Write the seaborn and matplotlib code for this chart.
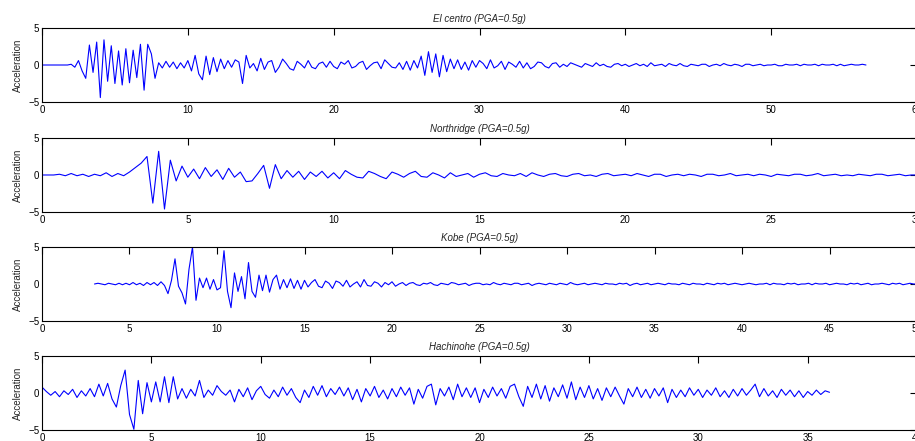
import matplotlib

matplotlib.use("Agg")

import matplotlib.pyplot as plt
import numpy as np
import pandas as pd
import seaborn as sns

# accelerogramas (unidade do eixo: -5..5)
elcentro_dt = 0.25
elcentro_acc = [
    0, 0, 0, 0, 0, 0, 0, 0, 0.1, -0.3, 0.6, -0.8, -1.8, 2.7, -1.0, 3.1, -4.4, 3.4, -2.2, 2.6,
    -2.5, 1.9, -2.7, 2.2, -2.4, 2.0, -1.7, 2.8, -3.4, 2.8, 1.5, -1.8, 0.3, -0.4, 0.5, -0.3, 0.4, -0.5, 0.3, -0.4,
    0.6, -0.8, 1.3, -1.2, -2.0, 1.2, -1.3, 1.0, -0.9, 0.8, -0.5, 0.6, -0.3, 0.7, 0.4, -2.5, 1.3, -0.4, 0.2, -0.8,
    0.9, -0.6, 0.4, 0.6, -1.0, -0.3, 0.8, 0.2, -0.5, -0.7, 0.5, 0.1, -0.4, 0.6, -0.3, -0.5, 0.2, 0.4, -0.3, 0.5,
    -0.2, -0.5, 0.4, 0.1, 0.6, -0.4, -0.2, 0.3, 0.5, -0.6, -0.1, 0.3, 0.4, -0.5, 0.7, 0.2, -0.3, -0.4, 0.3, -0.6,
    0.5, -0.7, 0.6, -0.4, 1.2, -1.4, 1.8, -1.0, 1.5, -1.6, 1.3, -0.9, 0.8, -0.5, 0.7, -0.6, 0.4, -0.7, 0.6, -0.3,
    0.6, 0.2, -0.5, 0.7, -0.4, -0.1, 0.5, -0.6, 0.4, 0.1, -0.3, 0.5, -0.4, 0.3, -0.5, -0.2, 0.4, 0.3, -0.2, -0.4,
    0.2, 0.3, -0.3, 0.1, -0.2, 0.3, 0.1, -0.1, -0.3, 0.2, 0.0, -0.2, 0.3, -0.1, 0.1, -0.2, -0.3, 0.1, 0.2, -0.1,
    0.1, -0.2, 0.0, 0.2, -0.1, 0.1, -0.2, 0.3, -0.1, 0.0, 0.1, -0.2, 0.2, 0.0, -0.1, 0.2, -0.1, -0.2, 0.1, 0.0,
    -0.1, 0.1, 0.1, -0.2, 0.0, 0.1, -0.1, 0.2, 0.0, -0.1, 0.1, 0.0, -0.2, 0.1, 0.1, -0.1, 0.0, 0.1, -0.1, 0.0,
    0.0, 0.1, -0.1, -0.1, 0.1, 0.0, 0.0, 0.1, -0.1, 0.1, 0.0, 0.0, 0.1, -0.1, 0.1, 0.0, 0.0, 0.1, -0.1, 0.1,
    -0.1, 0.0, 0.1, 0.0, 0.0, 0.1, 0.0,
]

northridge_dt = 0.2
northridge_acc = [
    0, 0, 0, 0.1, -0.1, 0.2, -0.1, 0.1, -0.2, 0.1,
    -0.1, 0.3, -0.2, 0.2, -0.1, 0.4, 1.0, 1.6, 2.5, -3.8,
    3.2, -4.6, 2.0, -0.8, 1.2, -0.3, 0.8, -0.5, 1.0, -0.2,
    0.7, -0.6, 0.9, -0.3, 0.4, -0.9, -0.8, 0.2, 1.3, -1.8,
    1.4, -0.5, 0.6, -0.3, 0.5, -0.6, 0.4, -0.2, 0.5, -0.4,
    0.3, -0.5, 0.6, 0.1, -0.3, -0.4, 0.5, 0.2, -0.2, -0.5,
    0.4, 0.1, -0.3, 0.2, 0.5, -0.2, -0.3, 0.3, 0.0, -0.4,
    0.3, -0.2, 0.0, 0.2, -0.3, 0.1, 0.3, -0.1, -0.2, 0.2,
    0.0, -0.1, 0.2, -0.2, 0.3, 0.0, -0.2, 0.1, 0.2, -0.1,
    -0.2, 0.1, 0.2, -0.1, 0.0, -0.2, 0.1, 0.2, -0.1, 0.0,
    0.1, -0.1, 0.2, 0.0, -0.2, 0.1, 0.1, -0.2, 0.0, 0.1,
    -0.1, 0.1, 0.0, -0.2, 0.1, 0.1, -0.1, 0.0, 0.2, -0.1,
    0.0, 0.1, -0.1, 0.1, 0.0, -0.2, 0.1, 0.0, -0.1, 0.1,
    0.1, -0.1, 0.0, 0.2, -0.1, 0.0, 0.1, -0.1, 0.0, -0.1,
    0.1, 0.0, -0.1, 0.1, 0.1, -0.1, 0.0, 0.1, -0.1, 0.0,
    0.0,
]

kobe_t0 = 3.0
kobe_dt = 0.2
kobe_acc = [
    0.0, 0.1, 0.0, -0.1, 0.1, 0.0, -0.1, 0.1, -0.1, 0.1,
    -0.1, 0.2, -0.1, 0.1, -0.2, 0.2, -0.1, 0.2, -0.2, 0.3,
    -0.2, -1.3, 0.5, 3.4, -0.3, -1.2, -2.7, 2.0, 5.0, -2.2,
    0.8, -0.5, 0.8, -0.7, 0.6, -0.8, -0.5, 4.5, -1.0, -3.2,
    1.5, -1.0, 1.0, -2.0, 2.9, -1.0, -1.8, 1.2, -0.9, 1.2,
    -1.1, 0.6, 1.2, -0.7, 0.6, -0.5, 0.7, -0.6, 0.5, -0.7,
    0.5, -0.4, 0.2, 0.6, -0.3, -0.5, 0.4, 0.1, -0.6, 0.4,
    0.2, -0.3, 0.5, -0.4, 0.0, 0.3, -0.4, 0.6, -0.2, -0.3,
    0.3, 0.1, -0.4, 0.2, -0.1, 0.3, -0.3, 0.0, 0.2, -0.2,
    0.1, 0.2, -0.1, -0.2, 0.1, 0.0, 0.2, -0.1, -0.2, 0.1,
    0.0, -0.1, 0.2, 0.1, -0.1, 0.0, 0.1, -0.2, 0.0, 0.1,
    0.1, -0.1, 0.0, -0.1, 0.2, 0.0, -0.1, 0.1, 0.0, -0.1,
    0.1, 0.1, -0.1, 0.0, 0.1, -0.2, 0.0, 0.1, 0.0, -0.1,
    0.1, 0.0, -0.1, 0.1, 0.0, -0.1, 0.2, 0.0, -0.1, 0.0,
    0.1, -0.1, 0.0, 0.1, 0.0, -0.1, 0.1, 0.0, 0.0, -0.1,
    0.1, 0.0, 0.1, -0.2, 0.0, 0.1, -0.1, 0.0, 0.1, -0.1,
    0.0, 0.1, 0.0, -0.1, 0.1, 0.0, 0.0, -0.1, 0.1, 0.0,
    -0.1, 0.1, 0.0, 0.0, -0.1, 0.1, 0.0, -0.1, 0.1, 0.0,
    0.1, -0.1, 0.0, 0.1, 0.0, -0.1, 0.0, 0.1, 0.0, -0.1,
    0.0, 0.0, 0.1, -0.1, 0.1, 0.0, 0.0, -0.1, 0.1, 0.0,
    0.1, -0.1, 0.0, 0.0, 0.1, -0.1, 0.1, 0.0, 0.0, 0.1,
    -0.1, 0.0, 0.1, 0.0, 0.0, -0.1, 0.1, 0.0, 0.1, -0.1,
    0.0, 0.1, -0.1, 0.0, 0.0, 0.1, 0.0, -0.1, 0.1, 0.0,
    0.1, -0.1, 0.0, 0.1, 0.0, 0.0,
]

hachinohe_dt = 0.2
hachinohe_acc = [
    0.8, 0.2, -0.3, 0.2, -0.5, 0.3, -0.2, 0.5, -0.6, 0.3,
    -0.4, 0.6, -0.5, 1.2, -0.4, 1.3, -0.8, -1.9, 1.0, 3.1,
    -2.9, -4.9, 1.7, -2.8, 1.4, -1.2, 1.5, -1.2, 2.2, -1.3,
    2.2, -0.8, 0.6, -0.7, 0.5, -0.4, 1.7, -0.6, 0.4, -0.3,
    1.0, 0.2, -0.3, 0.4, -1.2, 0.5, -0.5, 0.7, -0.9, 0.3,
    0.9, -0.2, -0.7, 0.4, -0.5, 0.8, -0.3, 0.6, -0.6, -1.3,
    0.4, -0.6, 0.9, -0.3, 1.0, -0.5, 0.6, -0.2, 0.8, -0.4,
    0.7, -0.9, 0.5, -1.2, 0.6, -0.4, 0.9, -0.6, 0.4, -0.8,
    0.6, -0.5, 0.8, -0.3, 0.7, -1.5, 0.5, -0.7, 0.9, 1.2,
    -1.6, 0.6, -0.4, 0.8, -0.9, 1.2, -0.5, 0.7, -0.6, 0.7,
    -1.3, 0.5, -0.6, 0.8, -0.4, 0.6, -0.7, 0.9, 1.2, -0.5,
    -1.8, 0.9, -0.6, 1.2, -0.8, 1.0, -1.1, 0.7, -0.5, 1.1,
    -0.7, 1.5, -0.9, 0.8, -0.6, 1.0, -0.8, 0.6, -1.0, 0.7,
    -0.5, 0.8, -0.4, -1.5, 0.6, -0.5, 0.8, -0.6, 0.5, -0.7,
    0.6, -0.4, 0.7, -1.3, 0.5, -0.6, 0.4, -0.5, 0.7, -0.3,
    0.5, -0.6, 0.4, -0.3, 0.7, -0.5, 0.3, -0.6, 0.5, -0.4,
    0.6, -0.3, 0.4, 1.2, -0.5, 0.6, -0.4, 0.3, -0.6, 0.5,
    -0.3, 0.4, -0.5, 0.3, -0.6, 0.2, -0.3, 0.4, -0.2, 0.3,
    0.1,
]

titles = ["El centro (PGA=0.5g)", "Northridge (PGA=0.5g)",
          "Kobe (PGA=0.5g)", "Hachinohe (PGA=0.5g)"]
xmax = [60, 30, 50, 40]
xstep = [10, 5, 5, 5]

records = [
    (0.0, elcentro_dt, elcentro_acc),
    (0.0, northridge_dt, northridge_acc),
    (kobe_t0, kobe_dt, kobe_acc),
    (0.0, hachinohe_dt, hachinohe_acc),
]

sns.set_theme(style="white")
plt.rcParams["font.family"] = ["Liberation Sans", "DejaVu Sans"]

fig = plt.figure(figsize=(9.15, 4.41), dpi=100)
bottoms = [0.7687, 0.5193, 0.2721, 0.0249]

for k, (t0, dt, acc) in enumerate(records):
    ax = fig.add_axes([0.0459, bottoms[k], 0.9563, 0.1678])
    df = pd.DataFrame({"t": t0 + np.arange(len(acc)) * dt, "a": acc})
    sns.lineplot(data=df, x="t", y="a", ax=ax, color="#0000ff",
                 linewidth=0.8, estimator=None, sort=False)
    ax.set_xlim(0, xmax[k])
    ax.set_ylim(-5, 5)
    ax.set_xticks(np.arange(0, xmax[k] + 1, xstep[k]))
    ax.set_yticks([-5, 0, 5])
    ax.tick_params(direction="in", top=True, right=True, length=5, width=0.8,
                   labelsize=7, pad=2, colors="black")
    for s in ax.spines.values():
        s.set_color("black")
        s.set_linewidth(0.8)
    ax.set_xlabel("")
    ax.set_ylabel("Acceleration", fontsize=7, labelpad=4)
    ax.set_title(titles[k], fontsize=7, style="italic", pad=4)

fig.savefig("out.png", dpi=100)
plt.close(fig)
